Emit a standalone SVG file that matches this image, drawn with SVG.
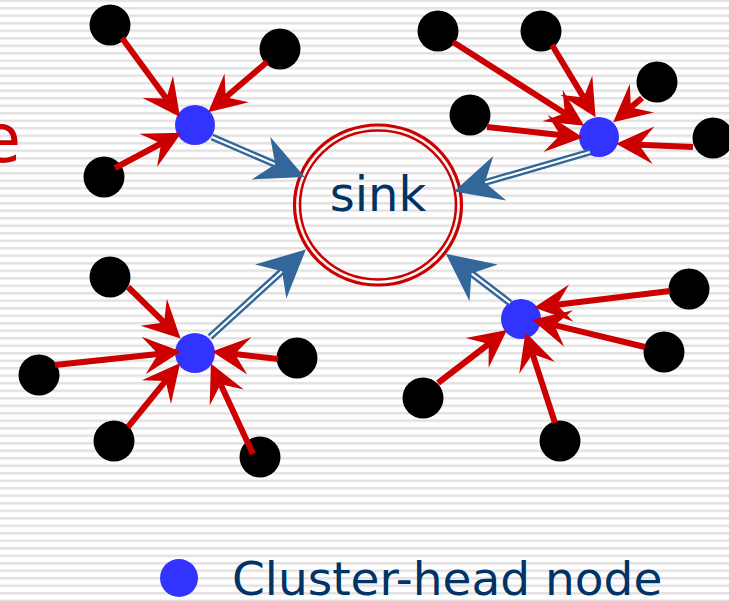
<svg xmlns="http://www.w3.org/2000/svg" width="729" height="601" viewBox="0 0 729 601">
<defs>
<pattern id="stripes" x="0" y="-0.5" width="729" height="7.5" patternUnits="userSpaceOnUse">
<rect x="0" y="0" width="729" height="2.5" fill="#e2e2e2"/>
</pattern>
<marker id="redHead" markerUnits="userSpaceOnUse" markerWidth="40" markerHeight="40" viewBox="-13 -16 33 32" refX="0" refY="0" orient="auto" overflow="visible">
<path d="M19,0 L-12,-15.5 L0,0 L-12,15.5 Z" fill="#cc0000"/>
</marker>
<marker id="blueHead" markerUnits="userSpaceOnUse" markerWidth="50" markerHeight="50" viewBox="-14 -20 42 40" refX="0" refY="0" orient="auto" overflow="visible">
<path d="M27,0 L-13,-19.5 L0,0 L-13,19.5 Z" fill="#336699"/>
</marker>
<style>
.leaf{fill:#000000}
.head{fill:#3333ff}
.red{stroke:#cc0000;stroke-width:6;fill:none;marker-end:url(#redHead)}
.blueOuter{stroke:#336699;stroke-width:7;fill:none}
.blueInner{stroke:#ffffff;stroke-width:2.2;fill:none;marker-end:url(#blueHead)}
.sinkRing{fill:none;stroke:#cc0000}
.lbl{font-family:"DejaVu Sans","Verdana",sans-serif;fill:#003366}
</style>
</defs>
<rect x="0" y="0" width="729" height="601" fill="#ffffff"/>
<rect x="0" y="0" width="729" height="601" fill="url(#stripes)"/>

<text x="21" y="162" font-family="DejaVu Sans, sans-serif" font-size="68" fill="#cc0000" text-anchor="end">e</text>

<g id="sink">
<ellipse class="sinkRing" cx="378" cy="205" rx="83.5" ry="80" stroke-width="3.2"/>
<ellipse class="sinkRing" cx="378" cy="205" rx="78" ry="74.5" stroke-width="2.6"/>
<text class="lbl" x="378" y="211" font-size="48" text-anchor="middle">sink</text>
</g>

<g id="cluster1">
<circle id="c1-head" class="head" cx="195" cy="125" r="20"/>
<circle id="c1-n1" class="leaf" cx="110" cy="25" r="20.5"/>
<circle id="c1-n2" class="leaf" cx="280" cy="49" r="20.5"/>
<circle id="c1-n3" class="leaf" cx="104" cy="177" r="20.5"/>
</g>
<g id="cluster2">
<circle id="c2-head" class="head" cx="599" cy="137" r="20"/>
<circle id="c2-n1" class="leaf" cx="438" cy="31" r="20.5"/>
<circle id="c2-n2" class="leaf" cx="541" cy="31" r="20.5"/>
<circle id="c2-n3" class="leaf" cx="657" cy="82" r="20.5"/>
<circle id="c2-n4" class="leaf" cx="470" cy="115" r="20.5"/>
<circle id="c2-n5" class="leaf" cx="713" cy="138" r="20.5"/>
</g>
<g id="cluster3">
<circle id="c3-head" class="head" cx="195" cy="353" r="20"/>
<circle id="c3-n1" class="leaf" cx="110" cy="277" r="20.5"/>
<circle id="c3-n2" class="leaf" cx="39" cy="375" r="20.5"/>
<circle id="c3-n3" class="leaf" cx="297" cy="358" r="20.5"/>
<circle id="c3-n4" class="leaf" cx="114" cy="441" r="20.5"/>
<circle id="c3-n5" class="leaf" cx="260" cy="457" r="20.5"/>
</g>
<g id="cluster4">
<circle id="c4-head" class="head" cx="521" cy="319" r="20"/>
<circle id="c4-n1" class="leaf" cx="689" cy="289" r="20.5"/>
<circle id="c4-n2" class="leaf" cx="664" cy="352" r="20.5"/>
<circle id="c4-n3" class="leaf" cx="423" cy="398" r="20.5"/>
<circle id="c4-n4" class="leaf" cx="560" cy="441" r="20.5"/>
</g>

<g id="connectors">
<line class="red" x1="122" y1="38" x2="166.4" y2="98.5"/>
<line class="red" x1="267" y1="62" x2="225.7" y2="97.3"/>
<line class="red" x1="115" y1="168" x2="161.1" y2="143.5"/>

<line class="red" x1="453" y1="42" x2="564.8" y2="113.3"/>
<line class="red" x1="552" y1="45" x2="583.7" y2="97.6"/>
<line class="red" x1="642" y1="98" x2="630.8" y2="107.4"/>
<line class="red" x1="487" y1="127" x2="560.1" y2="135"/>
<line class="red" x1="693" y1="147" x2="639" y2="144.7"/>

<line class="red" x1="128" y1="287" x2="164.1" y2="322.4"/>
<line class="red" x1="55" y1="365" x2="158.1" y2="353.9"/>
<line class="red" x1="278" y1="359" x2="234.9" y2="354.1"/>
<line class="red" x1="128" y1="427" x2="165.6" y2="380.9"/>
<line class="red" x1="253" y1="454" x2="220.6" y2="384.3"/>

<line class="red" x1="670" y1="291" x2="556.9" y2="304.8"/>
<line class="red" x1="645" y1="347" x2="554.5" y2="325.2"/>
<line class="red" x1="438" y1="383" x2="488.7" y2="344"/>
<line class="red" x1="555" y1="423" x2="532.6" y2="354.1"/>

<line class="blueOuter" x1="212" y1="137" x2="275.2" y2="164.3"/>
<line class="blueInner" x1="212" y1="137" x2="275.2" y2="164.3"/>
<line class="blueOuter" x1="590" y1="152" x2="484.9" y2="182.5"/>
<line class="blueInner" x1="590" y1="152" x2="484.9" y2="182.5"/>
<line class="blueOuter" x1="210" y1="337" x2="282.1" y2="271.2"/>
<line class="blueInner" x1="210" y1="337" x2="282.1" y2="271.2"/>
<line class="blueOuter" x1="510" y1="303" x2="471.4" y2="273.4"/>
<line class="blueInner" x1="510" y1="303" x2="471.4" y2="273.4"/>
</g>

<g id="legend">
<circle class="head" cx="179" cy="578" r="19"/>
<text class="lbl" x="232" y="595" font-size="47">Cluster-head node</text>
</g>
</svg>
